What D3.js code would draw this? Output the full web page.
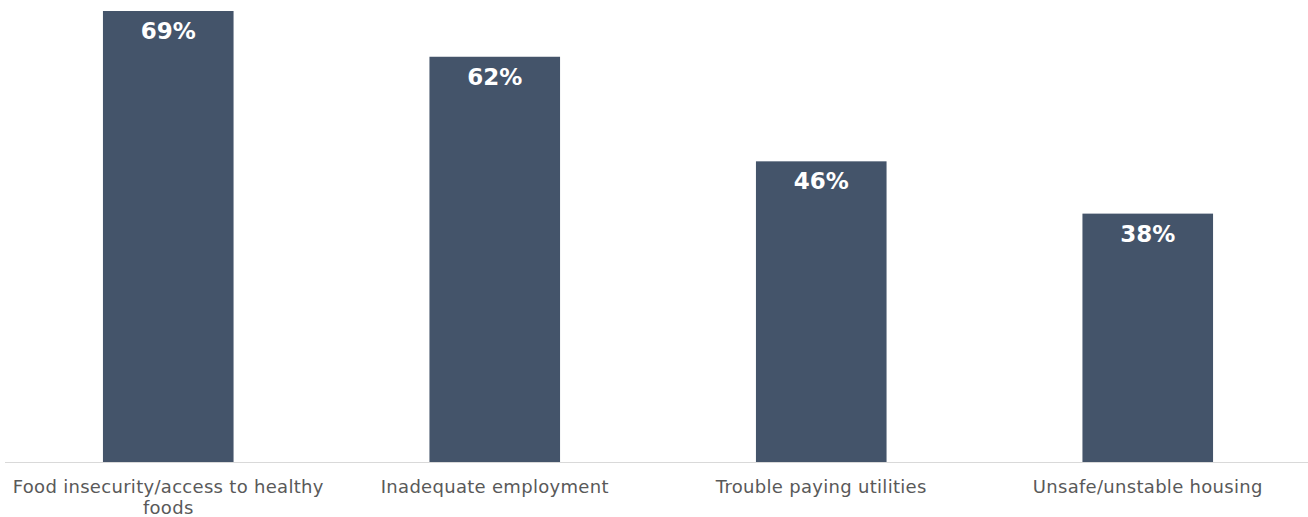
<!DOCTYPE html>
<html>
<head>
<meta charset="utf-8">
<script src="https://cdn.jsdelivr.net/npm/d3@7"></script>
<style>
  html, body { margin: 0; padding: 0; background: #ffffff; }
  svg { display: block; }
</style>
</head>
<body>
<svg id="chart" width="1308" height="517"></svg>
<script>
// Share of respondents citing each social need
const categories = [
  "Food insecurity/access to healthy foods",
  "Inadequate employment",
  "Trouble paying utilities",
  "Unsafe/unstable housing"
];
const values = [69, 62, 46, 38];

const svg = d3.select("#chart");
const FONT = "Verdana, 'DejaVu Sans', sans-serif";

const x = d3.scaleBand()
  .domain(categories)
  .range([5, 1311])
  .paddingInner(0.6)
  .paddingOuter(0.3);

const y = d3.scaleLinear()
  .domain([0, 69])
  .range([462, 11]);

// bars
svg.append("g").selectAll("rect")
  .data(values)
  .join("rect")
  .attr("x", (d, i) => x(categories[i]))
  .attr("y", d => y(d))
  .attr("width", x.bandwidth())
  .attr("height", d => y(0) - y(d))
  .attr("fill", "#44546a");

// baseline axis with wrapped category labels
const axis = svg.append("g")
  .attr("transform", `translate(0,${y(0)})`)
  .call(d3.axisBottom(x).tickSize(0).tickPadding(0));
axis.select(".domain").attr("stroke", "#d9d9d9").attr("stroke-width", 1)
  .attr("d", `M5,0.5H1308`);

axis.selectAll(".tick text")
  .attr("fill", "#595959")
  .style("font-family", FONT)
  .style("font-size", "18px")
  .style("letter-spacing", "0.3px")
  .each(function(d) {
    const t = d3.select(this);
    const words = d.split(" ");
    const maxW = 318;
    t.text(null);
    let lines = [], line = [];
    const probe = t.append("tspan");
    words.forEach(w => {
      line.push(w);
      probe.text(line.join(" "));
      if (probe.node().getComputedTextLength() > maxW && line.length > 1) {
        line.pop();
        lines.push(line.join(" "));
        line = [w];
      }
    });
    lines.push(line.join(" "));
    probe.remove();
    lines.forEach((l, i) => {
      t.append("tspan")
        .attr("x", 0)
        .attr("y", 31 + i * 20.5)
        .attr("dy", 0)
        .text(l);
    });
  });

// value labels inside bar tops
svg.append("g").selectAll("text")
  .data(values)
  .join("text")
  .attr("x", (d, i) => x(categories[i]) + x.bandwidth() / 2)
  .attr("y", d => y(d) + 28)
  .attr("text-anchor", "middle")
  .attr("fill", "#ffffff")
  .style("font-family", FONT)
  .style("font-weight", "bold")
  .style("font-size", "23px")
  .text(d => d + "%");
</script>
</body>
</html>
